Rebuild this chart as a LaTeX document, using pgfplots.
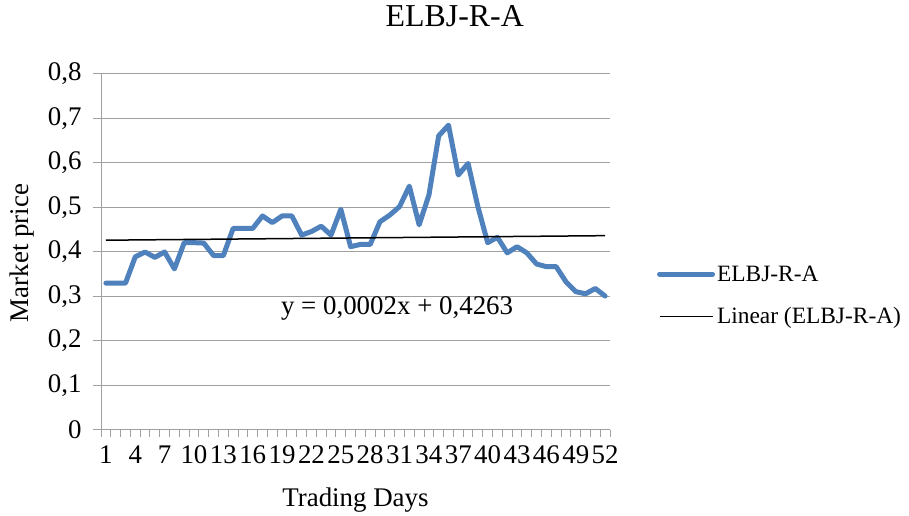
\documentclass[border=0pt]{standalone}
\usepackage{fontspec}
\setmainfont{Liberation Serif}
\usepackage{pgfplots}
\pgfplotsset{compat=1.18}
\definecolor{exblue}{RGB}{79,129,189}
\definecolor{gridgray}{RGB}{160,160,160}
\begin{document}
\begin{tikzpicture}[x=1bp,y=1bp]
\useasboundingbox (0,0) rectangle (909,516);
\begin{axis}[
  at={(101bp,86bp)}, anchor=south west,
  scale only axis, width=509bp, height=356bp,
  xmin=0.5, xmax=52.5, ymin=0, ymax=0.8,
  axis x line*=bottom, axis y line*=left,
  axis line style={gridgray, line width=1bp, -},
  tick align=outside,
  xtick={1,4,7,10,13,16,19,22,25,28,31,34,37,40,43,46,49,52},
  major x tick style={draw=none},
  minor xtick={0.5,1.5,...,52.5},
  minor x tick style={gridgray, line width=1bp},
  minor tick length=7bp,
  major tick length=8bp,
  ytick={0,0.1,0.2,0.3,0.4,0.5,0.6,0.7,0.8},
  major y tick style={gridgray, line width=1bp},
  ymajorgrids, major grid style={gridgray, line width=1bp},
  y tick label style={xshift=-8bp, /pgf/number format/.cd, fixed, use comma, precision=1, assume math mode=true},
  x tick label style={yshift=-4bp, /pgf/number format/assume math mode=true},
  tick label style={font=\fontsize{27}{30}\selectfont, text=black},
  title={ELBJ-R-A},
  title style={font=\fontsize{32}{36}\selectfont, at={(axis description cs:0.695,1)}, anchor=center, yshift=52bp},
  ylabel={Market price},
  ylabel style={font=\fontsize{27}{30}\selectfont, at={(axis description cs:-0.155,0.497)}, anchor=center},
  xlabel={Trading Days},
  xlabel style={font=\fontsize{27}{30}\selectfont, at={(axis description cs:0.5,-0.196)}, anchor=center},
  legend style={draw=none, fill=none, inner sep=0pt, at={(axis description cs:1.092,0.378)}, anchor=west, font=\fontsize{23.5}{27}\selectfont, row sep=21bp},
  legend cell align=left,
  legend image code/.code={\draw[#1] (0bp,0bp) -- (53bp,0bp);},
  clip=false,
]
\addplot[exblue, line width=5bp, line join=round, line cap=round] coordinates {
(1,0.330) (2,0.330) (3,0.330) (4,0.389) (5,0.400) (6,0.388) (7,0.400) (8,0.362)
(9,0.421) (10,0.421) (11,0.420) (12,0.392) (13,0.392) (14,0.453) (15,0.453) (16,0.453)
(17,0.481) (18,0.466) (19,0.481) (20,0.481) (21,0.438) (22,0.446) (23,0.458) (24,0.438)
(25,0.496) (26,0.412) (27,0.417) (28,0.417) (29,0.468) (30,0.483) (31,0.502) (32,0.548)
(33,0.461) (34,0.528) (35,0.661) (36,0.685) (37,0.573) (38,0.599) (39,0.502) (40,0.421)
(41,0.433) (42,0.398) (43,0.412) (44,0.398) (45,0.373) (46,0.367) (47,0.367) (48,0.333)
(49,0.311) (50,0.306) (51,0.318) (52,0.301)
};
\addlegendentry{ELBJ-R-A}
\addplot[black, line width=1.5bp] coordinates {(1,0.4265) (52,0.4367)};
\addlegendentry{Linear (ELBJ-R-A)}
\node[font=\fontsize{27}{30}\selectfont, inner sep=0pt] at (axis cs:30.75,0.272) {y = 0,0002x + 0,4263};
\end{axis}
\end{tikzpicture}
\end{document}
